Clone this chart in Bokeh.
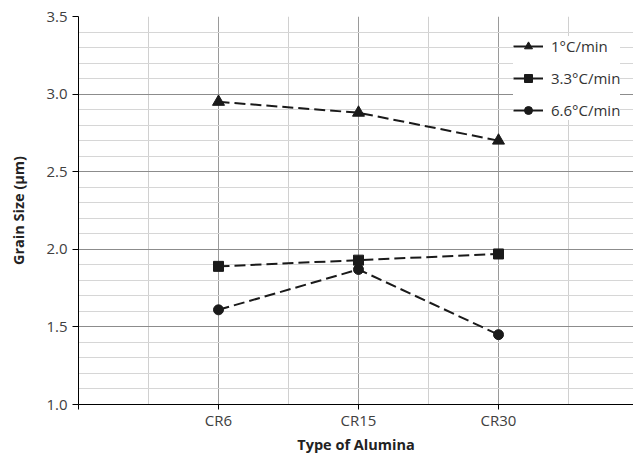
import numpy as np
from bokeh.plotting import figure
from bokeh.models import Range1d, FixedTicker, Legend, LegendItem, ColumnDataSource
from bokeh.embed import file_html
from bokeh.resources import INLINE

categories = ["CR6", "CR15", "CR30"]
cat_pos = [1, 2, 3]
series_names = ["1°C/min", "3.3°C/min", "6.6°C/min"]
rate_1 = [2.95, 2.88, 2.70]
rate_3_3 = [1.89, 1.93, 1.97]
rate_6_6 = [1.61, 1.87, 1.45]
y_ticks = [1.0, 1.5, 2.0, 2.5, 3.0, 3.5]
y_tick_labels = ["1.0", "1.5", "2.0", "2.5", "3.0", "3.5"]

FONT = "Open Sans"
INK = "#1a1a1a"

p = figure(width=633, height=456, output_backend="svg", toolbar_location=None,
           x_range=Range1d(0, 555 / 140), y_range=Range1d(1.0, 3.5),
           min_border_left=78, min_border_right=0, min_border_top=16, min_border_bottom=51)
p.outline_line_color = None
p.background_fill_color = "white"

# axes
p.xaxis.ticker = FixedTicker(ticks=[0] + cat_pos, minor_ticks=[0.5, 1.5, 2.5, 3.5])
p.xaxis.major_label_overrides = {0: ""} | {c: n for c, n in zip(cat_pos, categories)}
p.yaxis.ticker = FixedTicker(ticks=y_ticks, minor_ticks=list(np.round(np.arange(1.1, 3.45, 0.1), 2)))
p.yaxis.major_label_overrides = {t: l for t, l in zip(y_ticks, y_tick_labels)}

for ax in (p.xaxis[0], p.yaxis[0]):
    ax.axis_line_color = "black"
    ax.axis_line_width = 1
    ax.major_tick_line_color = "black"
    ax.major_tick_in = 0
    ax.minor_tick_line_color = None
    ax.major_label_text_font = FONT
    ax.major_label_text_font_size = "15px"
    ax.major_label_text_color = "#404040"
    ax.axis_label_text_font = FONT
    ax.axis_label_text_font_size = "14.5px"
    ax.axis_label_text_font_style = "bold"
    ax.axis_label_text_color = "#222222"

p.xaxis.major_tick_out = 5
p.xaxis.major_label_standoff = 0
p.xaxis.axis_label = "Type of Alumina"
p.xaxis.axis_label_standoff = 2
p.yaxis.major_tick_out = 6
p.yaxis.major_label_standoff = 5
p.yaxis.axis_label = "Grain Size (µm)"
p.yaxis.axis_label_standoff = 15

# grids
p.xgrid.ticker = FixedTicker(ticks=cat_pos, minor_ticks=[0.5, 1.5, 2.5, 3.5])
p.xgrid.grid_line_color = "#9a9a9a"
p.xgrid.minor_grid_line_color = "#d0d0d0"
p.ygrid.ticker = p.yaxis.ticker
p.ygrid.grid_line_color = "#8c8c8c"
p.ygrid.minor_grid_line_color = "#d6d6d6"

markers = ["triangle", "square", "circle"]
sizes = [12, 10, 10]
items = []
for name, vals, mk, sz in zip(series_names, [rate_1, rate_3_3, rate_6_6], markers, sizes):
    src = ColumnDataSource(dict(x=cat_pos, y=vals))
    p.line("x", "y", source=src, line_color=INK, line_width=2, line_dash="11 5")
    mr = p.scatter("x", "y", source=src, marker=mk, size=sz, fill_color=INK, line_color=INK)
    # single-point solid line: invisible on the plot, gives the legend its solid stroke
    lr = p.line(x=cat_pos[:1], y=vals[:1], line_color=INK, line_width=2)
    items.append(LegendItem(label=name, renderers=[lr, mr]))

legend = Legend(items=items, location=(435, 284))
legend.background_fill_color = "white"
legend.background_fill_alpha = 1
legend.border_line_color = None
legend.padding = 10
legend.spacing = 12
legend.glyph_width = 30
legend.glyph_height = 20
legend.label_height = 20
legend.label_standoff = 8
legend.label_text_font = FONT
legend.label_text_font_size = "15px"
legend.label_text_color = "#333333"
legend.margin = 0
p.add_layout(legend, "center")

open("out.html", "w").write(file_html(p, INLINE))
